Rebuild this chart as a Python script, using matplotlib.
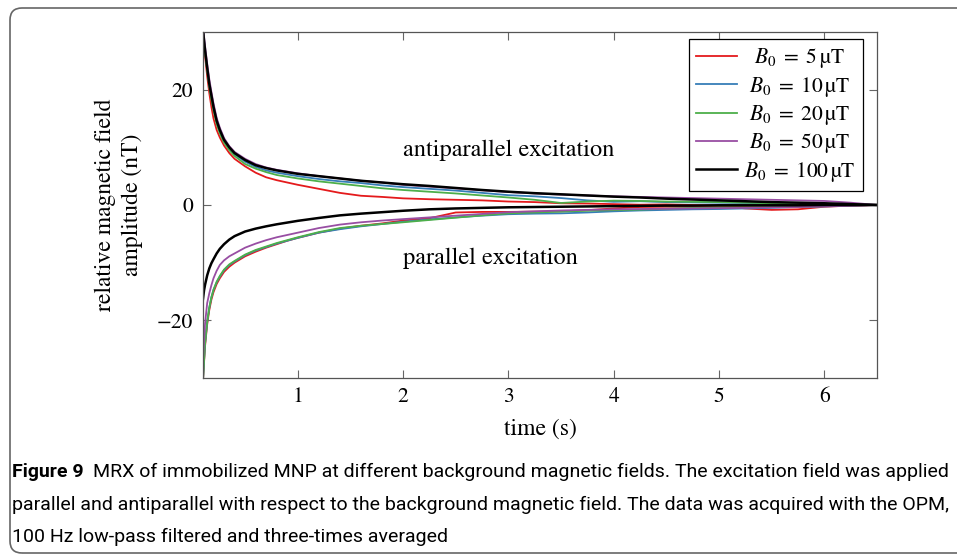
import matplotlib.pyplot as plt
from matplotlib.patches import FancyBboxPatch

plt.rcParams['font.family'] = 'STIXGeneral'
plt.rcParams['mathtext.fontset'] = 'stix'

# time axis (s), shared by all traces
t = [0.1, 0.11, 0.12, 0.14, 0.16, 0.18, 0.2, 0.23, 0.26, 0.3, 0.35, 0.4,
     0.5, 0.6, 0.7, 0.8, 0.9, 1.0, 1.2, 1.4, 1.6, 1.8, 2.0, 2.25, 2.5,
     2.75, 3.0, 3.25, 3.5, 3.75, 4.0, 4.25, 4.5, 4.75, 5.0, 5.25, 5.5,
     5.75, 6.0, 6.25, 6.5]

# antiparallel excitation (nT)
anti_5 = [30.0, 27.8, 25.8, 22.3, 19.4, 17.0, 15.0, 13.0, 11.7, 10.3, 9.0, 8.0,
          6.7, 5.6, 4.8, 4.3, 3.9, 3.5, 2.8, 2.1, 1.6, 1.4, 1.15, 1.0, 0.9,
          0.8, 0.6, 0.5, 0.3, 0.25, 0.15, 0.05, 0.1, 0.0, -0.1, -0.6, -0.85,
          -0.75, -0.3, -0.1, 0.0]
anti_10 = [30.5, 28.5, 26.7, 23.6, 20.8, 18.7, 16.7, 14.3, 12.7, 11.0, 9.8, 8.8,
           7.5, 6.6, 6.0, 5.6, 5.3, 5.0, 4.5, 4.1, 3.8, 3.4, 3.1, 2.8, 2.5,
           2.1, 1.7, 1.5, 1.2, 0.8, 0.55, 0.65, 0.5, 0.45, 0.4, 0.35, 0.3,
           0.3, 0.2, 0.1, 0.0]
anti_20 = [30.5, 28.3, 26.5, 23.3, 20.5, 18.3, 16.4, 14.0, 12.4, 10.8, 9.5, 8.5,
           7.1, 6.3, 5.7, 5.2, 4.9, 4.6, 4.1, 3.7, 3.3, 2.9, 2.6, 2.3, 2.0,
           1.65, 1.3, 0.9, 0.35, 0.6, 0.75, 0.7, 0.6, 0.55, 0.5, 0.4, 0.3,
           0.25, 0.2, 0.1, 0.0]
anti_50 = [31.0, 29.2, 27.5, 24.5, 21.8, 19.6, 17.6, 15.1, 13.4, 11.6, 10.2, 9.2,
           8.0, 7.1, 6.5, 6.1, 5.8, 5.5, 5.0, 4.6, 4.2, 3.9, 3.5, 3.2, 2.9,
           2.55, 2.25, 2.0, 1.8, 1.65, 1.5, 1.4, 1.3, 1.2, 1.1, 1.0, 0.9,
           0.8, 0.7, 0.4, 0.0]
anti_100 = [30.5, 28.5, 26.8, 23.8, 21.0, 19.0, 17.0, 14.6, 13.0, 11.3, 10.0, 9.0,
            7.8, 6.9, 6.4, 6.0, 5.7, 5.4, 5.0, 4.6, 4.2, 3.9, 3.6, 3.3, 2.95,
            2.6, 2.3, 2.05, 1.85, 1.65, 1.45, 1.3, 1.1, 0.95, 0.8, 0.65, 0.5,
            0.4, 0.3, 0.15, 0.0]

# parallel excitation (nT)
par_5 = [-30.5, -27.3, -24.4, -20.7, -18.2, -16.4, -15.1, -13.7, -12.7, -11.6,
         -10.7, -10.0, -8.9, -8.1, -7.4, -6.8, -6.2, -5.7, -4.8, -4.1, -3.6,
         -3.2, -2.7, -2.3, -1.3, -1.2, -1.2, -1.15, -1.1, -0.9, -0.6, -0.35,
         -0.3, -0.3, -0.3, -0.3, -0.3, -0.25, -0.2, -0.1, 0.0]
par_10 = [-30.5, -27.0, -24.0, -20.3, -17.8, -16.0, -14.7, -13.4, -12.4, -11.3,
          -10.4, -9.8, -8.7, -7.9, -7.3, -6.7, -6.2, -5.7, -4.8, -4.2, -3.7,
          -3.3, -2.9, -2.5, -2.15, -1.85, -1.6, -1.5, -1.45, -1.3, -1.1, -0.95,
          -0.85, -0.75, -0.7, -0.6, -0.5, -0.35, -0.25, -0.1, 0.0]
par_20 = [-30.5, -27.0, -24.0, -20.2, -17.8, -16.0, -14.7, -13.3, -12.3, -11.2,
          -10.3, -9.7, -8.6, -7.8, -7.2, -6.6, -6.1, -5.6, -4.7, -4.0, -3.6,
          -3.3, -3.0, -2.6, -2.2, -1.8, -1.45, -1.3, -1.15, -1.0, -0.9, -0.8,
          -0.65, -0.5, -0.4, -0.4, -0.35, -0.3, -0.2, -0.1, 0.0]
par_50 = [-27.0, -23.5, -20.5, -17.0, -15.3, -13.9, -12.7, -11.4, -10.4, -9.6,
          -8.9, -8.4, -7.4, -6.7, -6.1, -5.6, -5.2, -4.8, -4.0, -3.4, -3.0,
          -2.7, -2.45, -2.15, -1.85, -1.55, -1.25, -1.1, -0.95, -0.85, -0.75,
          -0.7, -0.65, -0.6, -0.55, -0.5, -0.4, -0.35, -0.25, -0.15, 0.0]
par_100 = [-16.3, -14.8, -13.8, -12.2, -11.0, -10.1, -9.4, -8.4, -7.6, -6.8,
           -6.0, -5.4, -4.6, -4.1, -3.7, -3.35, -3.05, -2.75, -2.25, -1.8, -1.5,
           -1.25, -1.0, -0.75, -0.6, -0.5, -0.4, -0.35, -0.3, -0.25, -0.2,
           -0.15, -0.1, -0.1, -0.05, -0.05, -0.05, -0.05, 0.0, 0.0, 0.0]

# leading spaces keep the shorter labels visually centred in the legend
labels = [r'  $B_0\;=\;5\,$µT', r' $B_0\;=\;10\,$µT', r' $B_0\;=\;20\,$µT',
          r' $B_0\;=\;50\,$µT', r'$B_0\;=\;100\,$µT']
colors = ['#e41a1c', '#377eb8', '#4daf4a', '#984ea3', 'black']
widths = [1.3, 1.3, 1.3, 1.3, 1.8]
anti = [anti_5, anti_10, anti_20, anti_50, anti_100]
par = [par_5, par_10, par_20, par_50, par_100]

fig = plt.figure(figsize=(9.57, 5.6), dpi=100)
ax = fig.add_axes([0.2121, 0.325, 0.7043, 0.6179])

for a, p, lab, c, w in zip(anti, par, labels, colors, widths):
    ax.plot(t, a, color=c, lw=w, label=lab)
    ax.plot(t, p, color=c, lw=w)

ax.set_xlim(0.1, 6.5)
ax.set_ylim(-30, 30)
ax.set_xticks([1, 2, 3, 4, 5, 6])
ax.set_yticks([-20, 0, 20])
ax.tick_params(direction='in', length=6, width=0.8, color='#666666',
               top=True, right=True, labelsize=15.5, pad=7)
for s in ax.spines.values():
    s.set_color('#555555')
    s.set_linewidth(0.9)

ax.set_xlabel('time (s)', fontsize=17, labelpad=8)
ax.set_ylabel('relative magnetic field\namplitude (nT)', fontsize=17,
              labelpad=10, linespacing=1.35)

ax.text(2.0, 9.5, 'antiparallel excitation', fontsize=17.5, va='center')
ax.text(2.0, -9.2, 'parallel excitation', fontsize=17.5, va='center')

leg = ax.legend(loc='upper right', bbox_to_anchor=(0.979, 0.98),
                borderaxespad=0, fontsize=15.5, handlelength=1.9,
                handletextpad=0.3, labelspacing=0.2, borderpad=0.35,
                fancybox=False, framealpha=1, edgecolor='black')
leg.get_frame().set_linewidth(0.9)

# rounded frame around the whole figure
frame = FancyBboxPatch((0.1, 0.07), 9.9, 5.45,
                       boxstyle='round,pad=0,rounding_size=0.12',
                       transform=fig.dpi_scale_trans, fill=False,
                       edgecolor='#666666', lw=1.2)
fig.add_artist(frame)

# caption
cap_font = ['Roboto']
cap_size = 14
fig.canvas.draw()
r = fig.canvas.get_renderer()
head = fig.text(12 / 957, 1 - 472 / 560, 'Figure 9', weight='bold',
                family=cap_font, size=cap_size, va='center')
bb = head.get_window_extent(r)
fig.text((bb.x1 + 9) / 957, 1 - 472 / 560,
         'MRX of immobilized MNP at different background magnetic fields. '
         'The excitation field was applied',
         family=cap_font, size=cap_size, va='center')
fig.text(12 / 957, 1 - 505 / 560,
         'parallel and antiparallel with respect to the background magnetic '
         'field. The data was acquired with the OPM,',
         family=cap_font, size=cap_size, va='center')
fig.text(12 / 957, 1 - 537 / 560,
         '100 Hz low-pass filtered and three-times averaged',
         family=cap_font, size=cap_size, va='center')

fig.savefig('out.png', dpi=100)
